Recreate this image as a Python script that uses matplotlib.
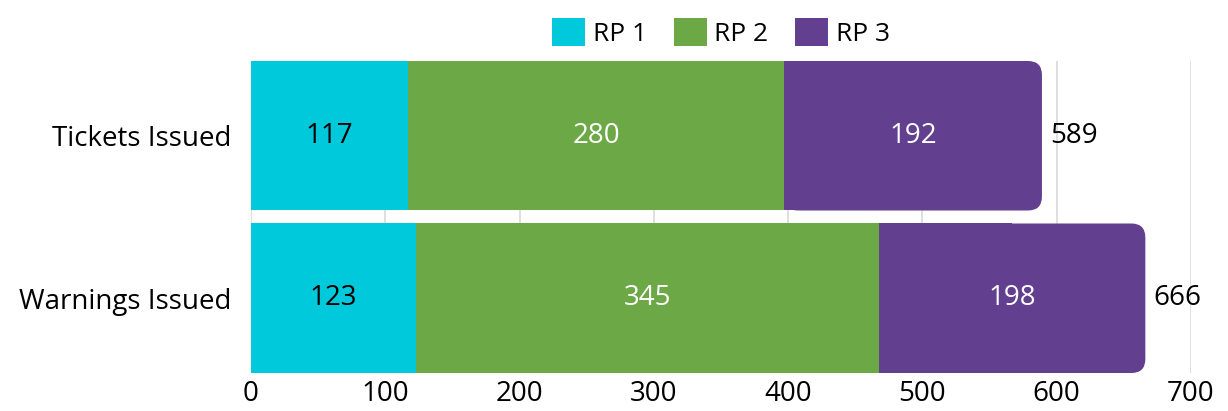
import matplotlib
matplotlib.use("Agg")
import matplotlib.pyplot as plt
from matplotlib.patches import FancyBboxPatch, Patch, Rectangle
import numpy as np

categories = ["Tickets Issued", "Warnings Issued"]
series_names = ["RP 1", "RP 2", "RP 3"]
rp1 = [117, 123]
rp2 = [280, 345]
rp3 = [192, 198]
totals = [589, 666]
xticks = [0, 100, 200, 300, 400, 500, 600, 700]

colors = ["#00C9DB", "#6DA846", "#623F8F"]
label_colors = ["black", "white", "white"]

plt.rcParams['font.family'] = ['Open Sans', 'DejaVu Sans']
FS = 20

W, H = 1228, 411
fig = plt.figure(figsize=(W / 100, H / 100), dpi=100)
ax = fig.add_axes([251 / W, (H - 373) / H, (1191 - 251) / W, (373 - 61) / H])

ax.set_xlim(0, 700)
ax.set_ylim(1.46, -0.46)
bar_h = 0.92
y = np.arange(len(categories))

# pixel scales for rounded corners
px_per_x = (1191 - 251) / 700.0
px_per_y = (373 - 61) / 1.92
aspect = px_per_x / px_per_y
r_px = 14
r = r_px / px_per_x

series = [rp1, rp2, rp3]
for i, yi in enumerate(y):
    left = 0
    for s, (vals, c) in enumerate(zip(series, colors)):
        v = vals[i]
        if s < len(series) - 1:
            ax.barh(yi, v, left=left, height=bar_h, color=c, edgecolor='none', zorder=2)
        else:
            box = FancyBboxPatch((left, yi - bar_h / 2), v, bar_h,
                                 boxstyle=f"round,pad=0,rounding_size={r}",
                                 mutation_aspect=aspect,
                                 facecolor=c, edgecolor='none', zorder=2)
            ax.add_patch(box)
            ax.add_patch(Rectangle((left, yi - bar_h / 2), v / 2, bar_h,
                                   facecolor=c, edgecolor='none', zorder=2))
        ax.text(left + v / 2, yi, str(v), ha='center', va='center',
                color=label_colors[s], fontsize=FS, zorder=3)
        left += v
    ax.text(totals[i] + 8 / px_per_x, yi, str(totals[i]), ha='left', va='center',
            color='black', fontsize=FS, zorder=3)

ax.set_xticks(xticks)
ax.set_xticklabels([str(t) for t in xticks], fontsize=FS)
ax.set_yticks(y)
ax.set_yticklabels(categories, fontsize=FS)
ax.tick_params(axis='both', length=0)
ax.tick_params(axis='x', pad=5)
ax.tick_params(axis='y', pad=14)
ax.grid(axis='x', color='#D9D9D9', linewidth=1.2, zorder=0)
ax.set_axisbelow(True)
for sp in ax.spines.values():
    sp.set_visible(False)

handles = [Patch(facecolor=c, edgecolor='none') for c in colors]
ax.legend(handles, series_names, loc='lower center', bbox_to_anchor=(0.5, 1.045),
          ncol=3, frameon=False, fontsize=FS - 1, handlelength=1.25, handleheight=1.25,
          handletextpad=0.3, columnspacing=1.0, borderaxespad=0, borderpad=0)

fig.savefig("out.png", dpi=100)
